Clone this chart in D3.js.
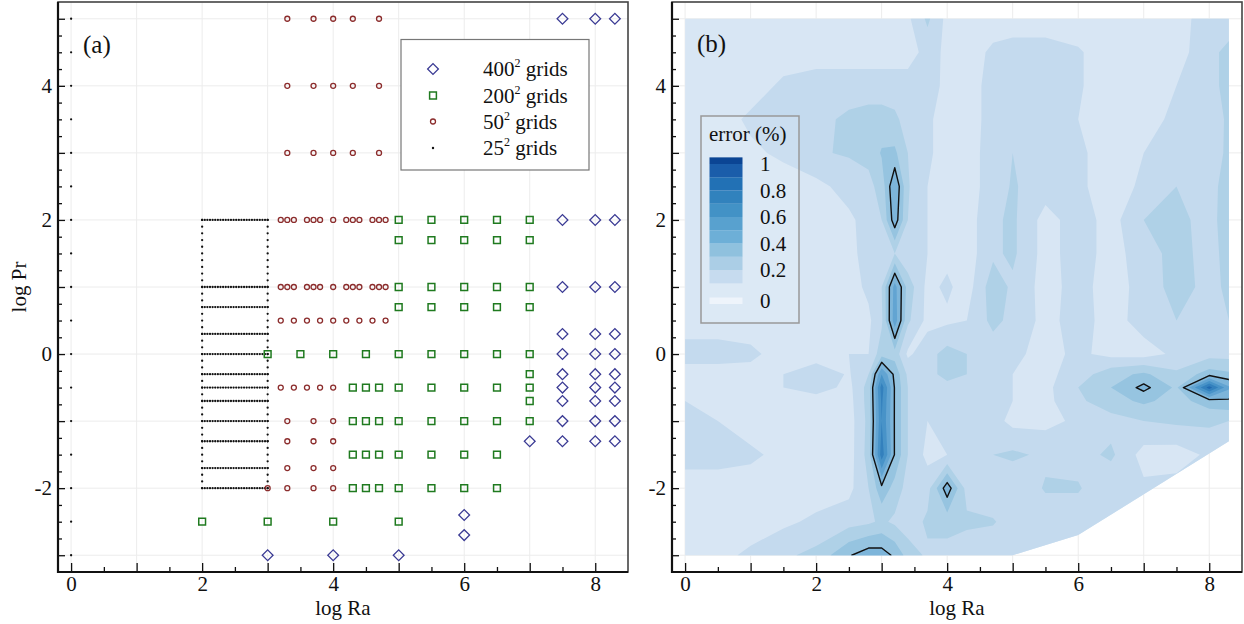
<!DOCTYPE html>
<html>
<head>
<meta charset="utf-8">
<script src="https://cdn.jsdelivr.net/npm/d3@7"></script>
<style>
  html, body { margin: 0; padding: 0; background: #fff; }
  svg { display: block; }
  text { font-family: 'Liberation Serif', 'Times New Roman', Times, 'DejaVu Serif', serif; fill: #111; }
</style>
</head>
<body>
<div id="chart"></div>
<script>
// ---- data : panel (a) sample points, rows of [log Pr, [log Ra ...]]
const grid400 = [
  [5, [7.5, 8, 8.3]], [2, [7.5, 8, 8.3]], [1, [7.5, 8, 8.3]], [0.3, [7.5, 8, 8.3]],
  [0, [7.5, 8, 8.3]], [-0.3, [7.5, 8, 8.3]], [-0.5, [7.5, 8, 8.3]], [-0.7, [7.5, 8, 8.3]],
  [-1, [7.5, 8, 8.3]], [-1.3, [7, 7.5, 8, 8.3]], [-2.4, [6]], [-2.7, [6]], [-3, [3, 4, 5]]
]
const grid200 = [
  [2, [5, 5.5, 6, 6.5, 7]], [1.7, [5, 5.5, 6, 6.5, 7]], [1, [5, 5.5, 6, 6.5, 7]], [0.7, [5, 5.5, 6, 6.5, 7]],
  [0, [3, 3.5, 4, 4.5, 5, 5.5, 6, 6.5, 7]], [-0.3, [7]],
  [-0.5, [4.3, 4.5, 4.7, 5, 5.5, 6, 6.5, 7]], [-0.7, [7]],
  [-1, [4.3, 4.5, 4.7, 5, 5.5, 6, 6.5, 7]], [-1.5, [4.3, 4.5, 4.7, 5, 5.5, 6, 6.5]],
  [-2, [4.3, 4.5, 4.7, 5, 5.5, 6, 6.5]], [-2.5, [2, 3, 4, 5]]
]
const grid50 = [
  [5, [3.3, 3.7, 4, 4.3, 4.7]], [4, [3.3, 3.7, 4, 4.3, 4.7]], [3, [3.3, 3.7, 4, 4.3, 4.7]],
  [2, [3.2, 3.3, 3.4, 3.6, 3.7, 3.8, 4, 4.2, 4.3, 4.4, 4.6, 4.7, 4.8]],
  [1, [3.2, 3.3, 3.4, 3.6, 3.7, 3.8, 4, 4.2, 4.3, 4.4, 4.6, 4.7, 4.8]],
  [0.5, [3.2, 3.4, 3.6, 3.8, 4, 4.2, 4.4, 4.6, 4.8]],
  [-0.5, [3.2, 3.4, 3.6, 3.8, 4]],
  [-1, [3.3, 3.7, 4]], [-1.3, [3.3, 3.7, 4]], [-1.7, [3.3, 3.7, 4]], [-2, [3, 3.3, 3.7, 4]]
]
// 25^2 : one column at log Ra = 0, plus a box of rows and two columns
const grid25AxisPr = [5, 4.5, 4, 3.5, 3, 2.5, 2, 1.5, 1, 0.5, 0, -0.5, -1, -1.5, -2, -2.5, -3]
const grid25RowPr = [2, 1, 0.7, 0.3, 0, -0.3, -0.5, -0.7, -1, -1.3, -1.7, -2]
const grid25RowRa = [2, 2.04, 2.08, 2.12, 2.16, 2.2, 2.24, 2.28, 2.32, 2.36, 2.4, 2.44, 2.48,
  2.52, 2.56, 2.6, 2.64, 2.68, 2.72, 2.76, 2.8, 2.84, 2.88, 2.92, 2.96, 3]
const grid25ColRa = [2, 3]
const grid25ColPr = [-2, -1.9, -1.8, -1.7, -1.6, -1.5, -1.4, -1.3, -1.2, -1.1, -1, -0.9, -0.8, -0.7,
  -0.6, -0.5, -0.4, -0.3, -0.2, -0.1, 0, 0.1, 0.2, 0.3, 0.4, 0.5, 0.6, 0.7, 0.8, 0.9, 1, 1.1, 1.2,
  1.3, 1.4, 1.5, 1.6, 1.7, 1.8, 1.9, 2]

// ---- data : panel (b) error (%) read on a (log Ra, log Pr) grid
const errRa = [0, 0.5, 1, 1.5, 2, 2.5, 2.8, 3, 3.2, 3.4, 3.7, 4, 4.3, 4.7, 5, 5.5, 6, 6.5, 7, 7.5, 8, 8.3]
const errPr = [-3, -2.5, -2, -1.5, -1, -0.7, -0.5, -0.3, 0, 0.5, 1, 1.5, 2, 2.5, 3, 3.5, 4, 4.5, 5]
const errValues = [
  [.15,.17,.22,.28,.33,.49,.56,.55,.48,.36,.28,.26,.24,.22,.22,.22,.22,.2,.2,.2,.2,.2],       // -3
  [.15,.15,.15,.18,.22,.26,.28,.32,.28,.24,.32,.34,.32,.31,.25,.24,.24,.22,.2,.2,.2,.2],       // -2.5
  [.15,.15,.15,.15,.15,.17,.3,.47,.36,.26,.26,.56,.26,.22,.22,.31,.31,.22,.22,.24,.24,.24],    // -2
  [.24,.24,.22,.17,.15,.15,.34,.86,.49,.3,.17,.2,.24,.3,.32,.28,.26,.32,.16,.15,.22,.24],      // -1.5
  [.24,.2,.15,.15,.15,.15,.33,.8,.49,.3,.2,.24,.25,.24,.17,.17,.22,.26,.3,.32,.32,.3],         // -1
  [.2,.18,.17,.15,.15,.16,.34,.82,.49,.3,.24,.26,.26,.24,.2,.17,.28,.36,.42,.36,.45,.48],      // -0.7
  [.15,.15,.17,.2,.25,.17,.34,.85,.49,.3,.26,.28,.28,.24,.2,.17,.3,.4,.53,.38,.95,.62],        // -0.5
  [.16,.16,.17,.2,.26,.19,.3,.7,.47,.28,.28,.32,.3,.24,.2,.17,.25,.36,.42,.32,.45,.42],        // -0.3
  [.24,.24,.22,.16,.15,.2,.2,.36,.36,.18,.26,.34,.3,.24,.22,.17,.22,.17,.16,.22,.26,.26],      // 0
  [.15,.15,.15,.15,.15,.15,.18,.28,.66,.32,.17,.18,.2,.33,.27,.17,.24,.16,.24,.3,.26,.3],      // 0.5
  [.15,.15,.15,.15,.15,.16,.22,.3,.64,.36,.17,.22,.15,.36,.28,.16,.24,.15,.24,.34,.27,.32],    // 1
  [.15,.15,.15,.15,.15,.17,.24,.26,.3,.22,.2,.17,.15,.28,.32,.16,.25,.16,.25,.34,.26,.34],     // 1.5
  [.15,.15,.15,.15,.15,.18,.24,.3,.56,.3,.2,.17,.15,.28,.32,.16,.25,.16,.3,.33,.26,.36],       // 2
  [.15,.15,.15,.15,.17,.24,.27,.34,.6,.31,.2,.15,.15,.25,.31,.25,.22,.15,.22,.3,.26,.35],      // 2.5
  [.15,.15,.18,.22,.29,.31,.33,.41,.42,.3,.22,.15,.15,.25,.3,.25,.22,.15,.2,.25,.25,.32],      // 3
  [.15,.15,.22,.26,.27,.32,.34,.34,.32,.26,.22,.15,.15,.24,.25,.25,.2,.15,.15,.23,.24,.32],    // 3.5
  [.15,.15,.15,.22,.25,.25,.25,.25,.25,.25,.25,.17,.15,.24,.25,.25,.21,.15,.15,.2,.27,.33],    // 4
  [.15,.15,.15,.15,.15,.15,.15,.15,.15,.15,.24,.18,.15,.22,.24,.24,.21,.15,.15,.15,.28,.32],   // 4.5
  [.15,.15,.15,.15,.15,.15,.15,.15,.15,.18,.32,.17,.15,.15,.15,.15,.15,.15,.15,.15,.26,.26]    // 5
]
// outline of the sampled region
const errHull = [[0, -3], [5, -3], [6, -2.7], [8.3, -1.3], [8.3, 5], [0, 5]]
const errLevels = [0.1, 0.2, 0.3, 0.4, 0.5, 0.6, 0.7, 0.8, 0.9, 1.0]
const errLineLevel = [0.5]
const legendLabels = [1, 0.8, 0.6, 0.4, 0.2]

const xTickLabels = [0, 2, 4, 6, 8]
const yTickLabels = [-2, 0, 2, 4]

function drawChart(){
    //1) dimensions
    const dimensions = { width: 1244, height: 624 }
    const panelA = { left: 58, right: 628, top: 2, bottom: 572 }
    const panelB = { left: 672, right: 1242, top: 2, bottom: 572 }
    const raDomain = [-0.2, 8.5]
    const prDomain = [-3.25, 5.25]
    const serif = "'Liberation Serif', 'Times New Roman', Times, 'DejaVu Serif', serif"

    const plotColors = ['#d8e6f4','#c4daee','#afd1e7','#96c4e0','#7db5da','#62a4d2','#4893c8','#3380bd','#2069b0','#0d4f99']
    const legendColors = ['#c6dbef','#abcee6','#8fc1de','#6dafd7','#58a1cf','#4292c6','#3182bd','#2271b5','#1a5daa','#0b4594']

    //2) canvas
    const svg = d3.select('#chart').append('svg')
        .attr('width', dimensions.width)
        .attr('height', dimensions.height)
        .style('font-family', serif)
    svg.append('rect').attr('width', dimensions.width).attr('height', dimensions.height).attr('fill', '#fff')

    //3) scales
    const xA = d3.scaleLinear().domain(raDomain).range([panelA.left, panelA.right])
    const yA = d3.scaleLinear().domain(prDomain).range([panelA.bottom, panelA.top])
    const xB = d3.scaleLinear().domain(raDomain).range([panelB.left, panelB.right])
    const yB = d3.scaleLinear().domain(prDomain).range([panelB.bottom, panelB.top])

    const flat = rows => rows.flatMap(([pr, ras]) => ras.map(ra => ({ ra, pr })))

    // light grid
    function drawGrid(box, x, y){
        const g = svg.append('g')
        g.append('g').selectAll('line').data(d3.range(0, 9)).enter().append('line')
            .attr('x1', d => x(d)).attr('x2', d => x(d))
            .attr('y1', box.top).attr('y2', box.bottom)
            .attr('stroke', '#ececec').attr('stroke-width', 1)
        g.append('g').selectAll('line').data(d3.range(-3, 6)).enter().append('line')
            .attr('y1', d => y(d)).attr('y2', d => y(d))
            .attr('x1', box.left).attr('x2', box.right)
            .attr('stroke', '#ececec').attr('stroke-width', 1)
    }

    // frame, inward ticks, labels
    function drawAxes(box, x, y){
        const g = svg.append('g')
        const style = sel => {
            sel.select('.domain').remove()
            sel.selectAll('line').attr('stroke', '#111').attr('stroke-width', 1.3)
            sel.selectAll('text').attr('font-size', 21).attr('font-family', serif).attr('fill', '#111')
        }
        g.append('g').attr('transform', `translate(0,${box.bottom})`)
            .call(d3.axisBottom(x).tickValues(d3.range(0.5, 8.5, 1)).tickSize(-5).tickFormat(''))
            .call(style)
        g.append('g').attr('transform', `translate(0,${box.bottom})`)
            .call(d3.axisBottom(x).tickValues(d3.range(0, 9)).tickSize(-9).tickPadding(4)
                .tickFormat(d => xTickLabels.includes(d) ? String(d) : ''))
            .call(style)
        g.append('g').attr('transform', `translate(${box.left},0)`)
            .call(d3.axisLeft(y).tickValues(d3.range(-3, 5.01, 0.25).filter(v => v % 1 !== 0)).tickSize(-4).tickFormat(''))
            .call(style)
        g.append('g').attr('transform', `translate(${box.left},0)`)
            .call(d3.axisLeft(y).tickValues(d3.range(-3, 6)).tickSize(-7).tickPadding(6)
                .tickFormat(d => yTickLabels.includes(d) ? String(d) : ''))
            .call(style)
        g.append('rect')
            .attr('x', box.left).attr('y', box.top)
            .attr('width', box.right - box.left).attr('height', box.bottom - box.top)
            .attr('fill', 'none').attr('stroke', '#444').attr('stroke-width', 1.6)
        g.append('path')
            .attr('d', `M${box.left},${box.top}V${box.bottom}H${box.right}`)
            .attr('fill', 'none').attr('stroke', '#111').attr('stroke-width', 2.2)
        g.append('text').attr('x', (box.left + box.right) / 2).attr('y', 615)
            .attr('text-anchor', 'middle').attr('font-size', 21).text('log Ra')
    }

    //4) panel (a)
    drawGrid(panelA, xA, yA)
    const marks = svg.append('g')

    const dots25 = [
        ...grid25AxisPr.map(pr => ({ ra: 0, pr })),
        ...grid25RowPr.flatMap(pr => grid25RowRa.map(ra => ({ ra, pr }))),
        ...grid25ColRa.flatMap(ra => grid25ColPr.map(pr => ({ ra, pr })))
    ]
    marks.append('g').selectAll('circle').data(dots25).enter().append('circle')
        .attr('cx', d => xA(d.ra)).attr('cy', d => yA(d.pr)).attr('r', 1.15).attr('fill', '#111')

    marks.append('g').selectAll('circle').data(flat(grid50)).enter().append('circle')
        .attr('cx', d => xA(d.ra)).attr('cy', d => yA(d.pr)).attr('r', 2.5)
        .attr('fill', 'none').attr('stroke', '#8b2c2c').attr('stroke-width', 1.3)

    const squareSym = d3.symbol(d3.symbolSquare, 46)
    marks.append('g').selectAll('path').data(flat(grid200)).enter().append('path')
        .attr('d', squareSym)
        .attr('transform', d => `translate(${xA(d.ra)},${yA(d.pr)})`)
        .attr('fill', 'none').attr('stroke', '#1f7a1f').attr('stroke-width', 1.5)

    const diamondSym = d3.symbol(d3.symbolSquare, 58)
    marks.append('g').selectAll('path').data(flat(grid400)).enter().append('path')
        .attr('d', diamondSym)
        .attr('transform', d => `translate(${xA(d.ra)},${yA(d.pr)}) rotate(45)`)
        .attr('fill', 'none').attr('stroke', '#3b3b94').attr('stroke-width', 1.3)

    drawAxes(panelA, xA, yA)

    svg.append('text')
        .attr('transform', `translate(26,${(panelA.top + panelA.bottom) / 2}) rotate(-90)`)
        .attr('text-anchor', 'middle').attr('font-size', 21).text('log Pr')
    svg.append('text').attr('x', 83).attr('y', 53).attr('font-size', 25).text('(a)')

    // legend (a)
    const legA = svg.append('g')
    legA.append('rect').attr('x', 401).attr('y', 39.5).attr('width', 188).attr('height', 130.5)
        .attr('fill', '#fff').attr('stroke', '#777').attr('stroke-width', 1.2)
    const legItems = [
        { n: '400', y: 69, kind: 'diamond' },
        { n: '200', y: 95.5, kind: 'square' },
        { n: '50', y: 121.5, kind: 'circle' },
        { n: '25', y: 148, kind: 'dot' }
    ]
    legItems.forEach(item => {
        const mx = 433
        if (item.kind === 'diamond') {
            legA.append('path').attr('d', diamondSym).attr('transform', `translate(${mx},${item.y}) rotate(45)`)
                .attr('fill', 'none').attr('stroke', '#3b3b94').attr('stroke-width', 1.3)
        } else if (item.kind === 'square') {
            legA.append('path').attr('d', squareSym).attr('transform', `translate(${mx},${item.y})`)
                .attr('fill', 'none').attr('stroke', '#1f7a1f').attr('stroke-width', 1.5)
        } else if (item.kind === 'circle') {
            legA.append('circle').attr('cx', mx).attr('cy', item.y).attr('r', 2.5)
                .attr('fill', 'none').attr('stroke', '#8b2c2c').attr('stroke-width', 1.3)
        } else {
            legA.append('circle').attr('cx', mx).attr('cy', item.y).attr('r', 1.2).attr('fill', '#111')
        }
        const t = legA.append('text').attr('x', 483).attr('y', item.y + 7).attr('font-size', 21)
        t.append('tspan').text(item.n)
        t.append('tspan').attr('dy', -9).attr('font-size', 12).text('2')
        t.append('tspan').attr('dy', 9).attr('font-size', 21).text(' grids')
    })

    //5) panel (b)
    drawGrid(panelB, xB, yB)

    const hullPath = 'M' + errHull.map(p => `${xB(p[0])},${yB(p[1])}`).join('L') + 'Z'
    svg.append('clipPath').attr('id', 'hull').append('path').attr('d', hullPath)

    // grid index -> pixel, values sit at index + 0.5
    const gx = d3.scaleLinear().domain(errRa.map((_, i) => i + 0.5)).range(errRa.map(v => xB(v)))
    const gy = d3.scaleLinear().domain(errPr.map((_, i) => i + 0.5)).range(errPr.map(v => yB(v)))
    const gridPath = d3.geoPath(d3.geoTransform({
        point: function(px, py){ this.stream.point(gx(px), gy(py)) }
    }))

    const values = errValues.flat()
    const size = [errRa.length, errPr.length]
    const bands = d3.contours().size(size).thresholds(errLevels)(values)
    const lines = d3.contours().size(size).thresholds(errLineLevel)(values)

    const field = svg.append('g').attr('clip-path', 'url(#hull)')
    field.selectAll('path.band').data(bands).enter().append('path')
        .attr('class', 'band')
        .attr('d', gridPath)
        .attr('fill', (d, i) => plotColors[i])
    field.selectAll('path.iso').data(lines).enter().append('path')
        .attr('class', 'iso')
        .attr('d', gridPath)
        .attr('fill', 'none').attr('stroke', '#111').attr('stroke-width', 1.4).attr('stroke-linejoin', 'round')

    drawAxes(panelB, xB, yB)
    svg.append('text').attr('x', 697).attr('y', 52).attr('font-size', 25).text('(b)')

    // legend (b)
    const legB = svg.append('g')
    legB.append('rect').attr('x', 701).attr('y', 116).attr('width', 98).attr('height', 207)
        .attr('fill', '#fff').attr('fill-opacity', 0.12).attr('stroke', '#999').attr('stroke-width', 1.5)
    legB.append('text').attr('x', 709).attr('y', 141).attr('font-size', 21).text('error (%)')
    const ly = d3.scaleLinear().domain([0.1, 1.0]).range([283.3, 164])
    legB.selectAll('rect.sw').data(errLevels).enter().append('rect')
        .attr('class', 'sw')
        .attr('x', 709.5).attr('width', 33)
        .attr('y', (d, i) => ly(i < errLevels.length - 1 ? errLevels[i + 1] : 1.05))
        .attr('height', (d, i) => ly(d) - ly(i < errLevels.length - 1 ? errLevels[i + 1] : 1.05))
        .attr('fill', (d, i) => legendColors[i])
    legB.append('rect').attr('x', 709.5).attr('y', 297.5).attr('width', 33).attr('height', 6.5).attr('fill', '#eef4fb')
    legB.selectAll('text.lab').data(legendLabels).enter().append('text')
        .attr('class', 'lab')
        .attr('x', 760).attr('y', d => ly(d) + 7).attr('font-size', 21)
        .text(d => String(d))
    legB.append('text').attr('x', 760).attr('y', 308).attr('font-size', 21).text('0')
}
drawChart()
</script>
</body>
</html>
